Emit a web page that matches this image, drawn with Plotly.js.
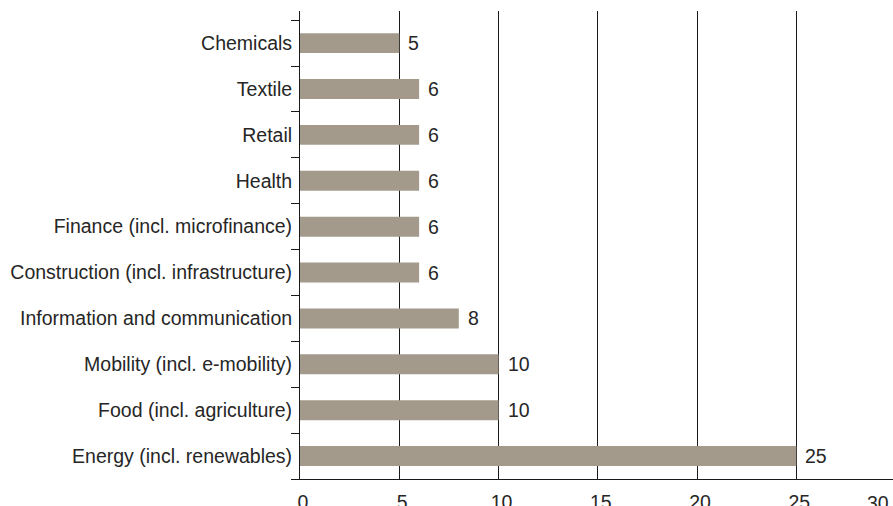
<!DOCTYPE html>
<html>
<head>
<meta charset="utf-8">
<script src="https://cdn.plot.ly/plotly-3.0.1.min.js"></script>
<style>
  html, body { margin: 0; padding: 0; background: #ffffff; }
  #chart { width: 893px; height: 506px; }
</style>
</head>
<body>
<div id="chart"></div>
<script>
// Sectors, listed bottom to top
const sectors = [
  "Energy (incl. renewables)",
  "Food (incl. agriculture)",
  "Mobility (incl. e-mobility)",
  "Information and communication",
  "Construction (incl. infrastructure)",
  "Finance (incl. microfinance)",
  "Health",
  "Retail",
  "Textile",
  "Chemicals"
];
const counts = [25, 10, 10, 8, 6, 6, 6, 6, 6, 5];
const xTickVals = [0, 5, 10, 15, 20, 25];
const xEdgeLabel = "30";

const FONT = "Liberation Sans, Arial, sans-serif";
const SIZE = 19.5;
const TEXT_COLOR = "#262626";
const BAR_COLOR = "#a39a8b";

const trace = {
  type: "bar",
  orientation: "h",
  x: counts,
  y: sectors,
  marker: { color: BAR_COLOR, line: { width: 0 } },
  hoverinfo: "none"
};

// Value labels just to the right of each bar
const valueLabels = counts.map((v, i) => ({
  x: v,
  y: sectors[i],
  xref: "x",
  yref: "y",
  text: String(v),
  showarrow: false,
  xanchor: "left",
  yanchor: "middle",
  xshift: 7,
  font: { family: FONT, size: SIZE, color: TEXT_COLOR }
}));

// Last tick label sits at the right edge of the page
valueLabels.push({
  x: 1,
  y: 0,
  xref: "paper",
  yref: "paper",
  text: xEdgeLabel,
  showarrow: false,
  xanchor: "right",
  yanchor: "top",
  xshift: -2,
  yshift: -11,
  font: { family: FONT, size: SIZE, color: TEXT_COLOR }
});

const layout = {
  width: 893,
  height: 506,
  margin: { l: 300, r: 0, t: 11, b: 27, pad: 0 },
  paper_bgcolor: "#ffffff",
  plot_bgcolor: "#ffffff",
  showlegend: false,
  bargap: 0.565,
  font: { family: FONT, size: SIZE, color: TEXT_COLOR },
  xaxis: {
    range: [0, 29.87],
    tickvals: xTickVals,
    ticks: "",
    showgrid: true,
    gridcolor: "#1a1a1a",
    gridwidth: 1,
    zeroline: false,
    showline: true,
    linecolor: "#1a1a1a",
    linewidth: 1,
    ticklabelstandoff: 6,
    ticklabelshift: 3,
    tickfont: { family: FONT, size: SIZE, color: TEXT_COLOR },
    fixedrange: true
  },
  yaxis: {
    type: "category",
    categoryorder: "array",
    categoryarray: sectors,
    range: [-0.5, 9.7],
    tickson: "boundaries",
    ticks: "outside",
    ticklen: 8,
    tickcolor: "#1a1a1a",
    tickwidth: 1,
    showgrid: false,
    zeroline: false,
    showline: true,
    linecolor: "#1a1a1a",
    linewidth: 1,
    ticklabelstandoff: 3,
    tickfont: { family: FONT, size: SIZE, color: TEXT_COLOR },
    fixedrange: true
  },
  annotations: valueLabels
};

Plotly.newPlot("chart", [trace], layout, { displayModeBar: false, staticPlot: true });
</script>
</body>
</html>
